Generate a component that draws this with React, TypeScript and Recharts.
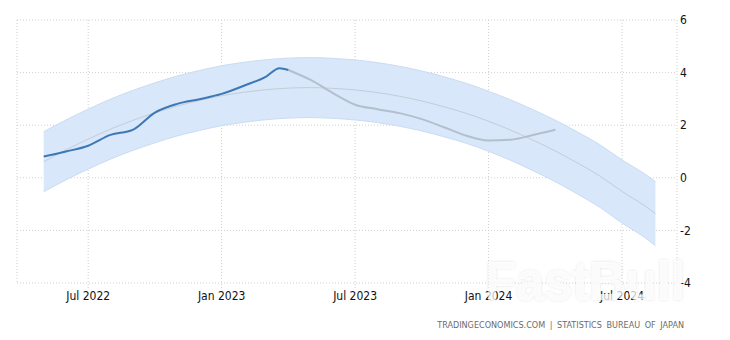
import React from 'react';
import { ComposedChart, Area, Line, XAxis, YAxis, CartesianGrid } from 'recharts';

// Month index: 0 = Jan 2022
const tickMonths = [6, 12, 18, 24, 30];
const tickLabels = ['Jul 2022', 'Jan 2023', 'Jul 2023', 'Jan 2024', 'Jul 2024'];
const yTicks = [-4, -2, 0, 2, 4, 6];

// Forecast band (trend with upper / lower bounds)
const bandMonths = [4, 5, 6, 7, 8, 9, 10, 11, 12, 13, 14, 15, 16, 17, 18, 19, 20, 21, 22, 23, 24, 25, 26, 27, 28, 29, 30, 31, 31.5];
const trendValues = [0.61, 1.06, 1.47, 1.85, 2.18, 2.47, 2.73, 2.94, 3.12, 3.25, 3.35, 3.41, 3.43, 3.4, 3.34, 3.24, 3.1, 2.92, 2.7, 2.45, 2.15, 1.81, 1.43, 1.02, 0.56, 0.07, -0.52, -1.05, -1.36];
const upperValues = [1.75, 2.2, 2.61, 2.99, 3.32, 3.61, 3.87, 4.08, 4.26, 4.39, 4.49, 4.55, 4.57, 4.54, 4.48, 4.38, 4.24, 4.06, 3.84, 3.59, 3.29, 2.96, 2.59, 2.19, 1.74, 1.26, 0.68, 0.16, -0.14];
const lowerValues = [-0.53, -0.08, 0.33, 0.71, 1.04, 1.33, 1.59, 1.8, 1.98, 2.11, 2.21, 2.27, 2.29, 2.26, 2.2, 2.1, 1.96, 1.78, 1.56, 1.31, 1.01, 0.66, 0.27, -0.15, -0.62, -1.12, -1.72, -2.26, -2.58];

// Actual series (blue part then grey part)
const blueMonths = [4, 5, 6, 7, 8, 9, 10, 11, 12, 13, 14, 14.6, 15];
const blueValues = [0.81, 1.0, 1.22, 1.63, 1.82, 2.48, 2.81, 2.99, 3.19, 3.5, 3.85, 4.17, 4.1];
const greyMonths = [15, 16, 17, 18, 19, 20, 21, 22, 23, 24, 25, 26, 27];
const greyValues = [4.1, 3.72, 3.22, 2.78, 2.61, 2.46, 2.23, 1.92, 1.6, 1.42, 1.45, 1.63, 1.83];

const bandData = bandMonths.map((t, i) => ({ t, band: [lowerValues[i], upperValues[i]], trend: trendValues[i] }));
const blueData = blueMonths.map((t, i) => ({ t, v: blueValues[i] }));
const greyData = greyMonths.map((t, i) => ({ t, v: greyValues[i] }));

const FONT = '"DejaVu Sans Condensed", "DejaVu Sans", sans-serif';

export default function App() {
  return (
    <div style={{ position: 'absolute', left: 0, top: 0, width: 730, height: 340, background: '#fff' }}>
      <ComposedChart width={730} height={340} margin={{ top: 20, right: 0, bottom: 27, left: 17 }}>
        <CartesianGrid stroke="#cfcfcf" strokeDasharray="1 2" />
        <XAxis
          dataKey="t"
          type="number"
          domain={[2.8, 32.47]}
          ticks={tickMonths}
          allowDataOverflow
          tickFormatter={(v: number) => tickLabels[tickMonths.indexOf(v)]}
          axisLine={false}
          tickLine={{ stroke: '#cfcfcf', strokeDasharray: '1 2' }}
          tickSize={5}
          tickMargin={3}
          height={30}
          tick={{ fill: '#111', fontSize: 12, fontFamily: FONT }}
        />
        <YAxis
          orientation="right"
          type="number"
          domain={[-4, 6]}
          ticks={yTicks}
          axisLine={false}
          tickLine={false}
          tickSize={0}
          tickMargin={3}
          width={53}
          tick={{ fill: '#111', fontSize: 12, fontFamily: FONT, textAnchor: 'start' }}
        />
        <Area
          data={bandData}
          dataKey="band"
          type="monotone"
          stroke="#cadcf3"
          strokeWidth={1}
          fill="#d8e7f9"
          fillOpacity={1}
          isAnimationActive={false}
          dot={false}
          activeDot={false}
        />
        <Line
          data={bandData}
          dataKey="trend"
          type="monotone"
          stroke="#c4cdd8"
          strokeWidth={1}
          dot={false}
          activeDot={false}
          isAnimationActive={false}
        />
        <Line
          data={greyData}
          dataKey="v"
          type="monotone"
          stroke="#b3bfcd"
          strokeWidth={2}
          dot={false}
          activeDot={false}
          isAnimationActive={false}
        />
        <Line
          data={blueData}
          dataKey="v"
          type="monotone"
          stroke="#3d78b6"
          strokeWidth={2}
          dot={false}
          activeDot={false}
          isAnimationActive={false}
        />
      </ComposedChart>
      <svg width={730} height={340} style={{ position: 'absolute', left: 0, top: 0, pointerEvents: 'none' }}>
        <defs>
          <filter id="wmShadow" x="-10%" y="-30%" width="120%" height="160%">
            <feDropShadow dx="0" dy="0" stdDeviation="1.8" floodColor="#000" floodOpacity="0.16" />
          </filter>
        </defs>
        <text
          x={485}
          y={300}
          fontFamily='"Liberation Sans", Arial, sans-serif'
          fontWeight="bold"
          fontSize={56}
          textLength={200}
          lengthAdjust="spacingAndGlyphs"
          fill="#ffffff"
          fillOpacity={0.72}
          filter="url(#wmShadow)"
        >
          FastBull
        </text>
        <text
          x={684}
          y={328}
          textAnchor="end"
          fontFamily={FONT}
          fontSize={9}
          fill="#6b6b6b"
          wordSpacing={2}
        >
          TRADINGECONOMICS.COM | STATISTICS BUREAU OF JAPAN
        </text>
      </svg>
    </div>
  );
}
